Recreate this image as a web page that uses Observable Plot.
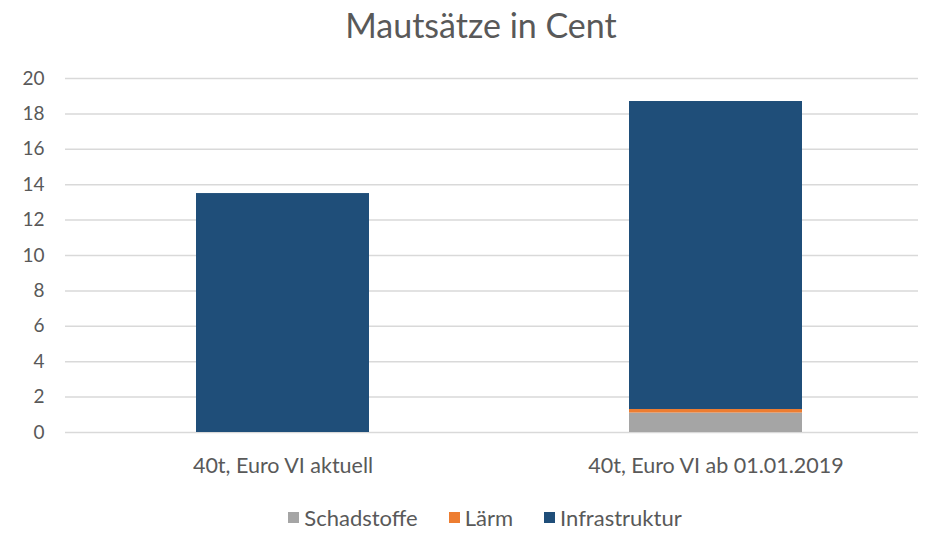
<!DOCTYPE html>
<html>
<head>
<meta charset="utf-8">
<script src="https://cdn.jsdelivr.net/npm/d3@7"></script>
<script src="https://cdn.jsdelivr.net/npm/@observablehq/plot@0.6"></script>
<style>
  body { margin: 0; background: #fff; font-family: Lato, "Open Sans", sans-serif; }
  #wrap { width: 932px; }
  #title { height: 52px; line-height: 50px; text-align: center; font-size: 34px; color: #595959; padding-left: 30px; box-sizing: border-box; }
  #legend { display: flex; justify-content: center; align-items: center; gap: 31px; height: 50px; font-size: 22px; color: #595959; padding-left: 38px; box-sizing: border-box; }
  #legend span.sw { display: inline-block; width: 11px; height: 11px; margin-right: 5px; }
  #legend div { display: flex; align-items: center; }
</style>
</head>
<body>
<div id="wrap">
  <div id="title">Mautsätze in Cent</div>
  <div id="chart"></div>
  <div id="legend"></div>
</div>
<script>
const categories = ["40t, Euro VI aktuell", "40t, Euro VI ab 01.01.2019"];
const series = ["Schadstoffe", "Lärm", "Infrastruktur"];
const schadstoffe = [0, 1.1];
const laerm = [0, 0.2];
const infrastruktur = [13.5, 17.4];
const yTicks = [0, 2, 4, 6, 8, 10, 12, 14, 16, 18, 20];
const colors = ["#A5A5A5", "#ED7D31", "#1F4E79"];

const seriesValues = [schadstoffe, laerm, infrastruktur];
const data = [];
series.forEach((s, i) => {
  categories.forEach((c, j) => {
    data.push({category: c, series: s, value: seriesValues[i][j]});
  });
});

const chart = Plot.plot({
  width: 932,
  height: 440,
  marginLeft: 65,
  marginRight: 14,
  marginTop: 26,
  marginBottom: 60,
  style: { fontFamily: "Lato, 'Open Sans', sans-serif", color: "#595959", background: "#fff" },
  x: { domain: categories, padding: 0.6, paddingOuter: 0.284, align: 0.53, label: null },
  y: { domain: [0, 20], label: null },
  color: { domain: series, range: colors },
  marks: [
    Plot.gridY(yTicks, { stroke: "#d9d9d9", strokeOpacity: 1, strokeWidth: 1.5 }),
    Plot.axisY({ ticks: yTicks, tickSize: 0, tickPadding: 21, fontSize: 19, fill: "#595959", label: null }),
    Plot.axisX({ tickSize: 0, tickPadding: 25, fontSize: 21.5, fill: "#595959", label: null }),
    Plot.barY(data, { x: "category", y: "value", fill: "series", order: series })
  ]
});
document.getElementById("chart").appendChild(chart);

const legend = document.getElementById("legend");
series.forEach((s, i) => {
  const item = document.createElement("div");
  item.innerHTML = `<span class="sw" style="background:${colors[i]}"></span>${s}`;
  legend.appendChild(item);
});
</script>
</body>
</html>
